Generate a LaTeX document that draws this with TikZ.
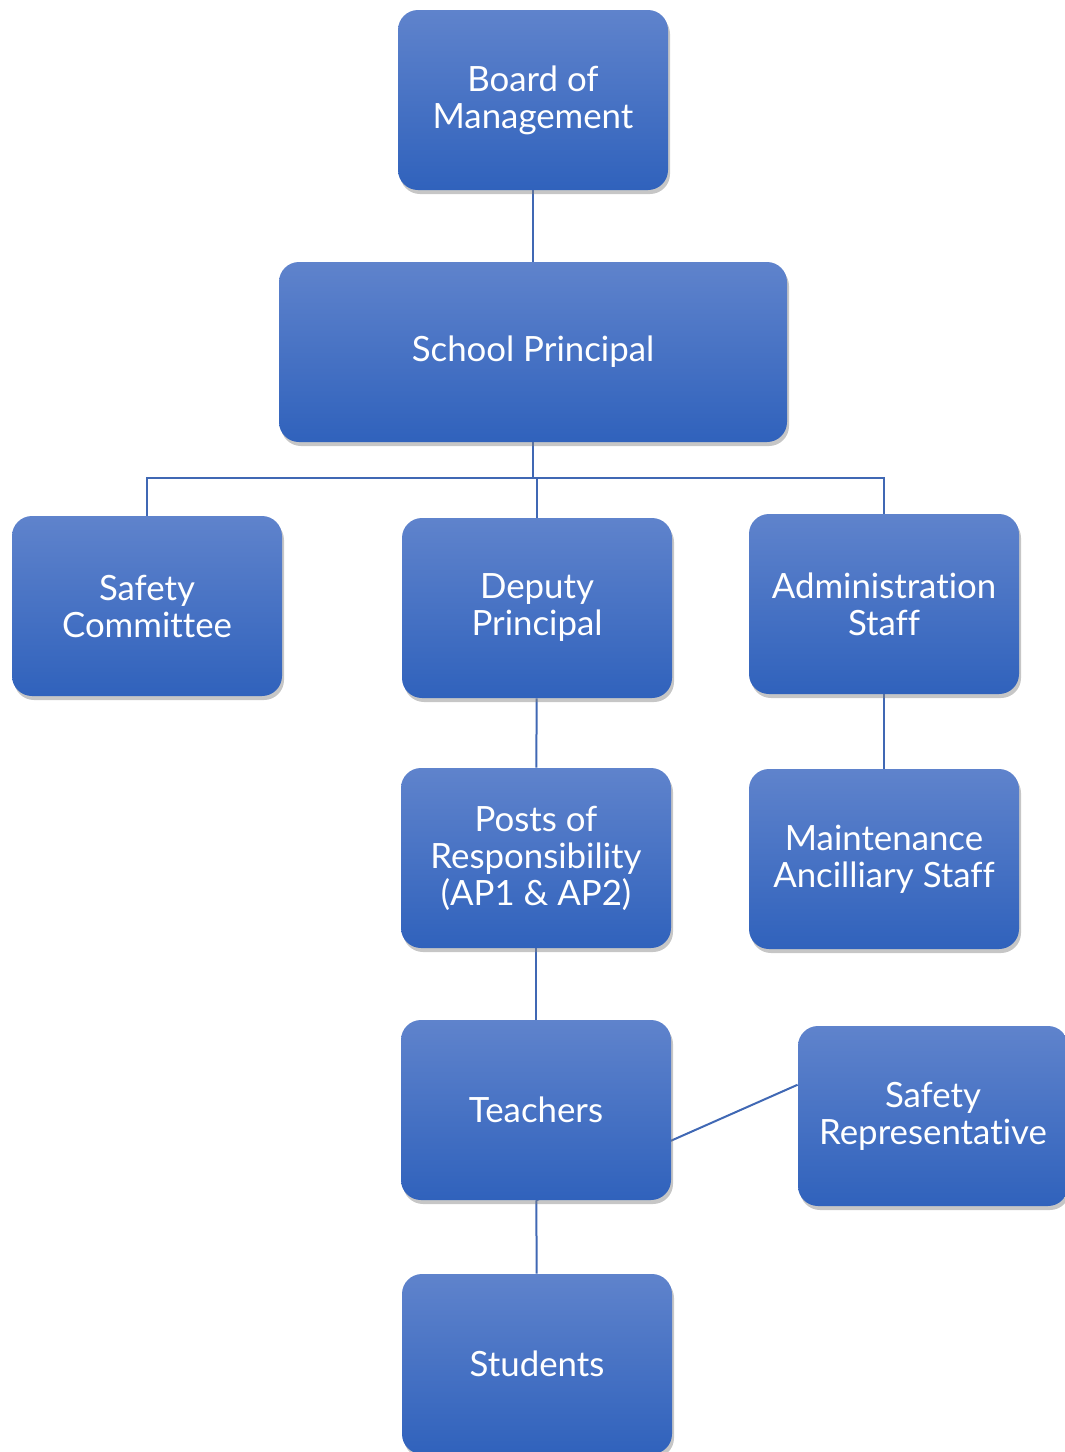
\documentclass[tikz,border=0pt]{standalone}
\usepackage{fontspec}
\setmainfont{Lato}[Ligatures=NoCommon]
\usetikzlibrary{shadows,backgrounds}
\definecolor{b1}{HTML}{5F83CC}
\definecolor{b2}{HTML}{3062BC}
\definecolor{ln}{HTML}{4068B4}
\tikzset{
  role/.style={rectangle, rounded corners=10pt, minimum width=135pt, minimum height=90pt,
    inner sep=2pt, top color=b1, bottom color=b2, text=white, align=center,
    font=\fontsize{17.4}{18.5}\selectfont,
    drop shadow={opacity=0.45, shadow xshift=1pt, shadow yshift=-2pt}},
  link/.style={ln, line width=1pt}
}

\begin{document}
\begin{tikzpicture}[x=0.5pt,y=-0.5pt]
			\useasboundingbox (0,0) rectangle (1065,1452);

			\node[role] (board) at (533,100) {Board of\\Management};
			\node[role, minimum width=254pt] (princ) at (533,352) {School Principal};

			\node[role] (safe) at (147,606) {Safety\\Committee};
			\node[role] (dep) at (537,608) {Deputy\\Principal};
			\node[role] (admin) at (884,604) {Administration\\Staff};

			\node[role] (posts) at (536,858) {Posts of\\Responsibility\\(AP1 \& AP2)};
			\node[role] (maint) at (884,859) {Maintenance\\Ancilliary Staff};

			\node[role] (teach) at (536,1110) {Teachers};
			\node[role] (rep) at (933,1116) {Safety\\Representative};

			\node[role] (stud) at (537,1364) {Students};

			\begin{scope}[on background layer]
				\draw[link] (board) -- (princ);
				\draw[link] (princ.south) -- ++(0,36) coordinate (fork);
				\draw[link] (fork) -| (safe.north);
				\draw[link] (fork) -| (dep.north);
				\draw[link] (fork) -| (admin.north);
				\draw[link] (dep) -- (posts);
				\draw[link] (admin) -- (maint);
				\draw[link] (posts) -- (teach);
				\draw[link] (teach) -- (stud);
				\draw[link] (rep.167) -- (teach.south);
			\end{scope}
		\end{tikzpicture}
\end{document}
